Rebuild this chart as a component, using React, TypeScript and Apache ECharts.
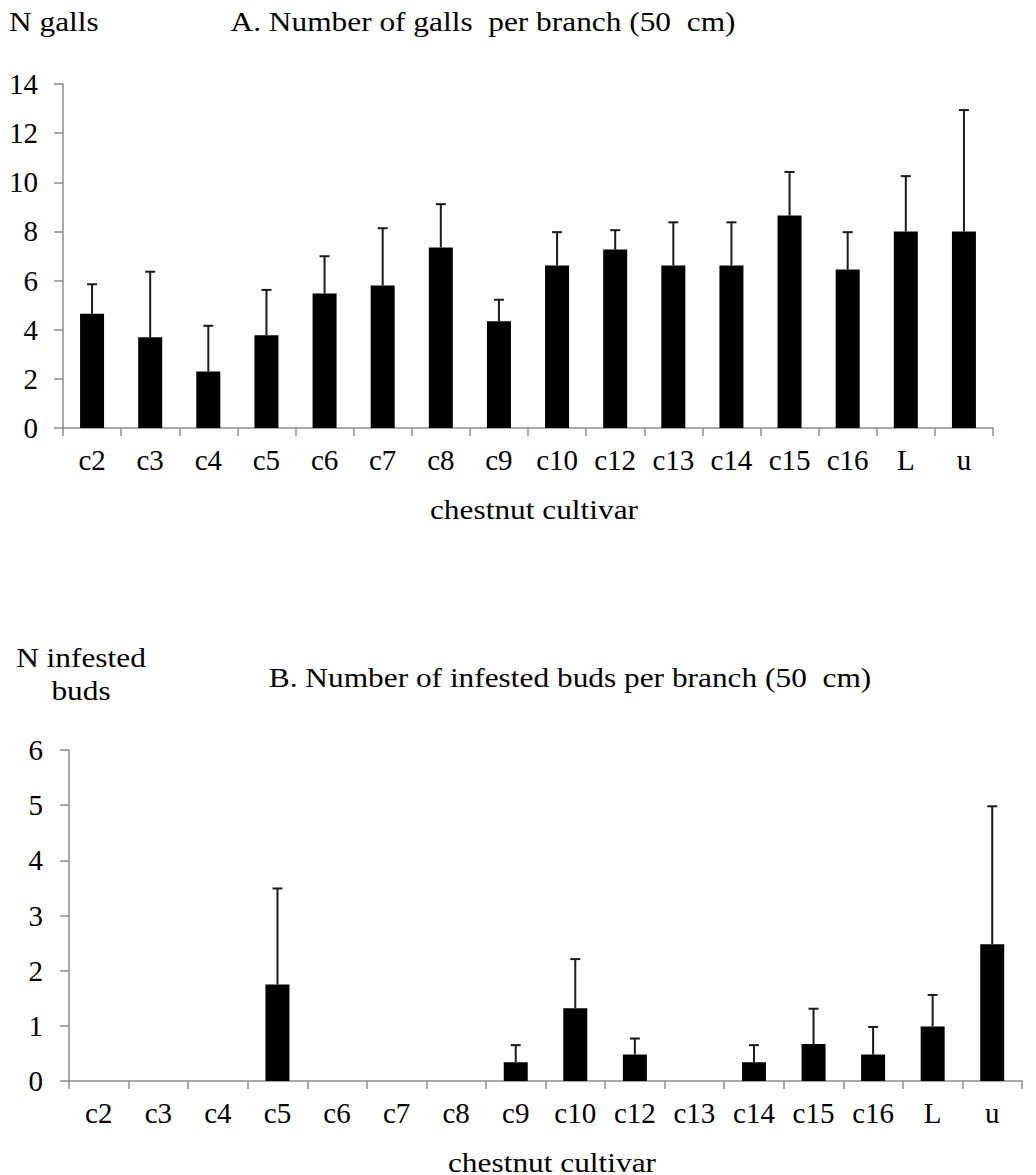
import React, { useEffect, useRef } from "react";
import * as echarts from "echarts";

const categories = ["c2", "c3", "c4", "c5", "c6", "c7", "c8", "c9", "c10", "c12", "c13", "c14", "c15", "c16", "L", "u"];
const gallsMean = [4.65, 3.69, 2.3, 3.77, 5.47, 5.8, 7.35, 4.34, 6.61, 7.26, 6.61, 6.61, 8.65, 6.45, 8.0, 8.0];
const gallsErr = [1.2, 2.67, 1.86, 1.85, 1.52, 2.33, 1.76, 0.88, 1.36, 0.79, 1.76, 1.76, 1.77, 1.52, 2.25, 4.94];
const budsMean = [0, 0, 0, 1.75, 0, 0, 0, 0.34, 1.32, 0.48, 0, 0.34, 0.67, 0.48, 0.99, 2.48];
const budsErr = [0, 0, 0, 1.74, 0, 0, 0, 0.31, 0.89, 0.29, 0, 0.31, 0.64, 0.5, 0.57, 2.5];

const FONT = "serif";
const FS_AXIS = 29;
const FS_TEXT = 28;

function errorItem(means: number[], errs: number[]) {
  return (params: any, api: any) => {
    const i = api.value(0);
    const m = means[i];
    const e = errs[i];
    if (!e) return null;
    const p0 = api.coord([i, m]);
    const p1 = api.coord([i, m + e]);
    const half = 5;
    const style = { stroke: "#1a1a1a", lineWidth: 2 };
    return {
      type: "group",
      children: [
        { type: "line", shape: { x1: p0[0], y1: p0[1], x2: p1[0], y2: p1[1] }, style },
        { type: "line", shape: { x1: p1[0] - half, y1: p1[1], x2: p1[0] + half, y2: p1[1] }, style },
      ],
    };
  };
}

export default function App() {
  const ref = useRef<HTMLDivElement>(null);
  useEffect(() => {
    document.body.style.margin = "0";
    const chart = echarts.init(ref.current!, null, { renderer: "svg" });
    const axisLine = { show: true, lineStyle: { color: "#8c8c8c", width: 1.5 } };
    const label = { color: "#000", fontFamily: FONT, fontSize: FS_AXIS };
    const xAxisBase = {
      type: "category",
      data: categories,
      boundaryGap: true,
      axisLine,
      axisTick: { show: true, length: 8, lineStyle: { color: "#8c8c8c", width: 1.5 } },
      axisLabel: { ...label, margin: 17, interval: 0 },
      splitLine: { show: false },
    };
    const yAxisBase = {
      type: "value",
      axisLine,
      axisTick: { show: true, length: 9, lineStyle: { color: "#8c8c8c", width: 1.5 } },
      splitLine: { show: false },
    };
    const textStyle = (text: string, x: number, y: number, align: string = "center") => ({
      type: "text",
      x,
      y,
      scaleX: 1.12,
      style: {
        text,
        fill: "#000",
        fontFamily: FONT,
        fontSize: FS_TEXT,
        textAlign: align,
        textVerticalAlign: "top",
        lineHeight: 33,
      },
    });
    chart.setOption({
      animation: false,
      backgroundColor: "#fff",
      grid: [
        { left: 63, right: 43, top: 84, height: 344, containLabel: false },
        { left: 69, right: 14, top: 750, height: 331, containLabel: false },
      ],
      xAxis: [
        { ...xAxisBase, gridIndex: 0 },
        { ...xAxisBase, gridIndex: 1 },
      ],
      yAxis: [
        { ...yAxisBase, gridIndex: 0, min: 0, max: 14, interval: 2, axisLabel: { ...label, margin: 25 } },
        { ...yAxisBase, gridIndex: 1, min: 0, max: 6, interval: 1, axisLabel: { ...label, margin: 26 } },
      ],
      series: [
        {
          type: "bar",
          xAxisIndex: 0,
          yAxisIndex: 0,
          data: gallsMean,
          barWidth: 24,
          itemStyle: { color: "#000" },
        },
        {
          type: "custom",
          xAxisIndex: 0,
          yAxisIndex: 0,
          data: gallsMean.map((v, i) => [i, v + gallsErr[i]]),
          renderItem: errorItem(gallsMean, gallsErr),
          z: 3,
        },
        {
          type: "bar",
          xAxisIndex: 1,
          yAxisIndex: 1,
          data: budsMean,
          barWidth: 24,
          itemStyle: { color: "#000" },
        },
        {
          type: "custom",
          xAxisIndex: 1,
          yAxisIndex: 1,
          data: budsMean.map((v, i) => [i, v + budsErr[i]]),
          renderItem: errorItem(budsMean, budsErr),
          z: 3,
        },
      ],
      graphic: [
        textStyle("N galls", 9, 5, "left"),
        textStyle("A. Number of galls  per branch (50  cm)", 483, 5),
        textStyle("chestnut cultivar", 534, 493),
        textStyle("N infested\nbuds", 81, 641),
        textStyle("B. Number of infested buds per branch (50  cm)", 570, 661),
        textStyle("chestnut cultivar", 552, 1146),
      ],
    });
    return () => chart.dispose();
  }, []);
  return <div ref={ref} style={{ width: 1036, height: 1175 }} />;
}
